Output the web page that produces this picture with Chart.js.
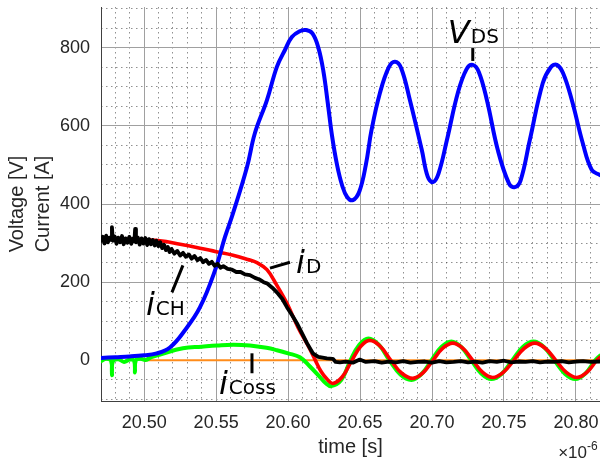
<!DOCTYPE html>
<html>
<head>
<meta charset="utf-8">
<script src="https://cdn.jsdelivr.net/npm/chart.js@4.4.1/dist/chart.umd.min.js"></script>
<style>
  html, body { margin: 0; padding: 0; background: #ffffff; }
  #wrap { width: 600px; height: 462px; }
</style>
</head>
<body>
<div id="wrap"><canvas id="c" width="600" height="462"></canvas></div>
<script>
// Switching transient: time axis in microseconds (labels shown with a ×10^-6 multiplier)

// Tick labels
const timeTicks = [20.50, 20.55, 20.60, 20.65, 20.70, 20.75, 20.80];
const valueTicks = [0, 200, 400, 600, 800];

// Drain-source voltage V_DS [V]
const vdsTime = [20.470, 20.480, 20.490, 20.500, 20.508, 20.5179, 20.5283, 20.5388, 20.5492, 20.5561,
  20.5617, 20.5714, 20.5769, 20.5853, 20.5922, 20.5978, 20.6026, 20.6080, 20.6125, 20.6170,
  20.6210, 20.6245, 20.6275, 20.6305, 20.6340, 20.6375, 20.6410, 20.6450, 20.6495, 20.6540,
  20.6580, 20.6638, 20.6700, 20.6742, 20.6785, 20.6846, 20.6929, 20.6970, 20.7006, 20.7045,
  20.7103, 20.7179, 20.7240, 20.7283, 20.7325, 20.7381, 20.7457, 20.7535, 20.7575, 20.7615,
  20.7679, 20.7769, 20.7825, 20.7867, 20.7910, 20.7971, 20.8047, 20.8110, 20.8167];
const vdsVolts = [6, 8, 10, 13, 17, 33, 77, 136, 230, 315,
  376, 494, 581, 666, 751, 794, 827, 842, 845, 836,
  800, 740, 660, 575, 500, 448, 418, 410, 432, 500,
  590, 684, 750, 764, 748, 666, 538, 470, 456, 478,
  563, 684, 745, 756, 738, 666, 538, 452, 443, 460,
  563, 709, 750, 756, 735, 666, 556, 487, 474];

// Drain current i_D [A]
const idTime = [20.470, 20.490, 20.511, 20.525, 20.5388, 20.550, 20.5617, 20.5720, 20.5783, 20.5853,
  20.5922, 20.5992, 20.6068, 20.6138, 20.6187, 20.6228, 20.6270, 20.6311, 20.6377, 20.6443,
  20.6505, 20.6568, 20.6640, 20.6714, 20.6790, 20.6867, 20.6937, 20.7006, 20.7075, 20.7144,
  20.7213, 20.7283, 20.7352, 20.7422, 20.7495, 20.7568, 20.7641, 20.7714, 20.7787, 20.7860,
  20.7933, 20.8006, 20.8075, 20.8144, 20.8167];
const idAmps = [312, 310, 306, 297, 287, 278, 269, 258, 250, 232,
  192, 146, 85, 38, 2, -28, -48, -59, -42, 0,
  36, 51, 36, 0, -33, -46, -32, 0, 31, 44,
  31, 0, -31, -44, -31, 0, 31, 44, 31, 0,
  -31, -44, -31, 0, 8];

// Output-capacitance current i_Coss [A]
const icossTime = [20.470, 20.4735, 20.4770, 20.4776, 20.4782, 20.4820, 20.4860, 20.4900, 20.4930, 20.4936,
  20.4942, 20.4975, 20.5010, 20.5050, 20.511, 20.5269, 20.540, 20.5506, 20.5620, 20.5735,
  20.5850, 20.5922, 20.6000, 20.6082, 20.6150, 20.6220, 20.6260, 20.6300, 20.6370, 20.6433,
  20.6495, 20.6558, 20.6630, 20.6704, 20.6780, 20.6857, 20.6927, 20.6996, 20.7065, 20.7134,
  20.7203, 20.7273, 20.7342, 20.7412, 20.7485, 20.7558, 20.7631, 20.7704, 20.7777, 20.7850,
  20.7923, 20.7996, 20.8065, 20.8134, 20.8167];
const icossAmps = [-2, 4, -1, -38, -3, 3, -4, 2, -1, -31,
  0, 4, 1, 8, 15, 31, 35, 38, 40, 38,
  32, 26, 18, 8, -15, -42, -58, -66, -50, 0,
  40, 56, 40, 0, -36, -50, -35, 0, 34, 48,
  34, 0, -34, -48, -34, 0, 34, 48, 34, 0,
  -34, -48, -34, 0, 12];

// Channel current i_CH [A]
const ichTime = [20.4700, 20.4712, 20.4724, 20.4736, 20.4748, 20.4760, 20.4770, 20.4776, 20.4782, 20.4795,
  20.4808, 20.4820, 20.4833, 20.4846, 20.4858, 20.4871, 20.4884, 20.4897, 20.4910, 20.4922,
  20.4932, 20.4937, 20.4943, 20.4956, 20.4969, 20.4982, 20.4995, 20.5008, 20.5021, 20.5034,
  20.5047, 20.5060, 20.5073, 20.5086, 20.5099, 20.5112, 20.5125, 20.5138, 20.5151, 20.5164,
  20.5177, 20.5190, 20.5210, 20.5230, 20.5250, 20.5270, 20.5290, 20.5310, 20.5330, 20.5350,
  20.5370, 20.5390, 20.5410, 20.5430, 20.5450, 20.5470, 20.5490, 20.5510, 20.5530, 20.5550,
  20.5580, 20.5610, 20.5640, 20.5670, 20.5700, 20.5735, 20.5770, 20.5800, 20.5830, 20.5853,
  20.5890, 20.5922, 20.5960, 20.5992, 20.6030, 20.6061, 20.6090, 20.6131, 20.6172, 20.6210,
  20.6269, 20.6311, 20.6330, 20.6360, 20.6400, 20.6450, 20.6498, 20.6540, 20.6600, 20.6650,
  20.6700, 20.6750, 20.6800, 20.6850, 20.6900, 20.6950, 20.7000, 20.7050, 20.7100, 20.7150,
  20.7200, 20.7250, 20.7300, 20.7350, 20.7400, 20.7450, 20.7500, 20.7550, 20.7600, 20.7650,
  20.7700, 20.7750, 20.7800, 20.7850, 20.7900, 20.7950, 20.8000, 20.8050, 20.8100, 20.8167];
const ichAmps = [306, 316, 299, 319, 302, 314, 308, 341, 306, 317,
  298, 314, 302, 318, 297, 312, 301, 316, 298, 311,
  305, 336, 302, 314, 296, 312, 299, 313, 295, 310,
  297, 308, 294, 306, 292, 302, 287, 296, 282, 290,
  277, 285, 273, 280, 268, 275, 265, 271, 260, 267,
  256, 262, 251, 257, 247, 252, 242, 247, 237, 241,
  234, 232, 226, 226, 220, 218, 211, 207, 200, 197,
  186, 174, 157, 136, 114, 95, 74, 44, 18, 9,
  5, 4, -4, -5, -3, -6, 2, -4, -2, -6,
  -3, -5, -2, -6, -4, -3, -6, -2, -5, -4,
  -2, -5, -3, -6, -2, -4, -1, -5, -3, -4,
  -2, -5, -3, -4, -2, -5, -3, -2, -4, -3];

// Zero reference
const refTime = [20.500, 20.8167];
const refAmps = [0, 0];

const pts = (xs, ys) => xs.map((x, i) => ({ x: x, y: ys[i] }));

const AXIS_FONT = '"Liberation Sans", Arial, Helvetica, sans-serif';
const AXIS_COLOR = '#262626';

// Callout labels placed in data coordinates
const callouts = [
  { main: 'V', sub: 'DS', at: [20.7110, 812], line: [[20.7283, 799], [20.7283, 766]] },
  { main: 'i', sub: 'D', at: [20.6055, 223], line: [[20.5874, 236], [20.6013, 251]] },
  { main: 'i', sub: 'CH', at: [20.5012, 115], line: [[20.5193, 174], [20.5269, 243]] },
  { main: 'i', sub: 'Coss', at: [20.5519, -85], line: [[20.5749, 18], [20.5749, -33]] }
];

const calloutPlugin = {
  id: 'callouts',
  afterDatasetsDraw(chart) {
    const { ctx, scales: { x, y }, chartArea } = chart;
    ctx.save();
    ctx.strokeStyle = '#000';
    ctx.fillStyle = '#000';
    ctx.lineWidth = 3;
    ctx.lineCap = 'butt';
    callouts.forEach(c => {
      ctx.beginPath();
      ctx.moveTo(x.getPixelForValue(c.line[0][0]), y.getPixelForValue(c.line[0][1]));
      ctx.lineTo(x.getPixelForValue(c.line[1][0]), y.getPixelForValue(c.line[1][1]));
      ctx.stroke();
      const px = x.getPixelForValue(c.at[0]);
      const py = y.getPixelForValue(c.at[1]);
      ctx.textBaseline = 'alphabetic';
      ctx.textAlign = 'left';
      ctx.font = 'italic 32px "DejaVu Sans"';
      ctx.fillText(c.main, px, py);
      const w = ctx.measureText(c.main).width;
      ctx.font = '20px "DejaVu Sans"';
      ctx.fillText(c.sub, px + w + 1, py);
    });
    ctx.restore();

    // exponent multiplier under the right end of the time axis
    ctx.save();
    ctx.fillStyle = AXIS_COLOR;
    ctx.textBaseline = 'alphabetic';
    ctx.textAlign = 'right';
    ctx.font = '17px ' + AXIS_FONT;
    const ex = chartArea.right - 13;
    ctx.fillText('\u00d710', ex, chartArea.bottom + 57);
    ctx.textAlign = 'left';
    ctx.font = '12px ' + AXIS_FONT;
    ctx.fillText('-6', ex, chartArea.bottom + 49);
    ctx.restore();
  }
};

const minorTimes = [];
for (let k = 0; k <= 34; k++) minorTimes.push(+(20.47 + k * 0.01).toFixed(2));
const minorValues = [];
for (let v = -100; v <= 900; v += 50) minorValues.push(v);

// minor grid axes take no room; main axes get fixed sizes
const clearPad = s => { s.paddingTop = s.paddingBottom = s.paddingLeft = s.paddingRight = 0; };
const collapse = s => { if (s.isHorizontal()) s.height = 0; else s.width = 0; clearPad(s); };
const fitX = s => { s.height = 58; clearPad(s); };
const fitY = s => { s.width = 101; clearPad(s); };

const lineStyle = { pointRadius: 0, fill: false, borderJoinStyle: 'round', borderCapStyle: 'round' };

new Chart(document.getElementById('c'), {
  type: 'line',
  data: {
    datasets: [
      Object.assign({ label: 'i_CH', data: pts(ichTime, ichAmps), borderColor: '#000000', borderWidth: 3.8, tension: 0 }, lineStyle),
      Object.assign({ label: 'V_DS', data: pts(vdsTime, vdsVolts), borderColor: '#0000ff', borderWidth: 4, tension: 0.4 }, lineStyle),
      Object.assign({ label: 'i_D', data: pts(idTime, idAmps), borderColor: '#ff0000', borderWidth: 3.6, tension: 0.4 }, lineStyle),
      Object.assign({ label: 'i_Coss', data: pts(icossTime, icossAmps), borderColor: '#00ff00', borderWidth: 4, tension: 0.4 }, lineStyle),
      Object.assign({ label: 'zero', data: pts(refTime, refAmps), borderColor: '#ff8c1a', borderWidth: 2, tension: 0 }, lineStyle)
    ]
  },
  options: {
    responsive: false,
    animation: false,
    devicePixelRatio: 1,
    layout: { padding: { left: 0, right: 0, top: 7, bottom: 3 } },
    plugins: { legend: { display: false }, tooltip: { enabled: false } },
    scales: {
      xMinor: {
        type: 'linear', position: 'bottom', min: 20.47, max: 20.8167,
        afterBuildTicks: a => { a.ticks = minorTimes.map(v => ({ value: v })); },
        afterFit: collapse,
        ticks: { display: false, padding: 0 },
        grid: { color: 'rgba(70,70,70,0.6)', lineWidth: 1, drawTicks: false },
        border: { display: false, dash: [1.5, 3.5] }
      },
      yMinor: {
        type: 'linear', position: 'left', min: -104, max: 904,
        afterBuildTicks: a => { a.ticks = minorValues.map(v => ({ value: v })); },
        afterFit: collapse,
        ticks: { display: false, padding: 0 },
        grid: { color: 'rgba(70,70,70,0.6)', lineWidth: 1, drawTicks: false },
        border: { display: false, dash: [1.5, 3.5] }
      },
      x: {
        type: 'linear', position: 'bottom', min: 20.47, max: 20.8167,
        afterBuildTicks: a => { a.ticks = timeTicks.map(v => ({ value: v })); },
        afterFit: fitX,
        ticks: {
          color: AXIS_COLOR, font: { family: AXIS_FONT, size: 18 }, padding: 11,
          maxRotation: 0, autoSkip: false,
          callback: v => v.toFixed(2)
        },
        grid: { color: '#a0a0a0', lineWidth: 1, drawTicks: false },
        border: { display: true, color: '#404040', width: 1 },
        title: {
          display: true, text: 'time [s]', color: AXIS_COLOR,
          font: { family: AXIS_FONT, size: 20 }, padding: { top: 2, bottom: 0 }
        }
      },
      y: {
        type: 'linear', position: 'left', min: -104, max: 904,
        afterBuildTicks: a => { a.ticks = valueTicks.map(v => ({ value: v })); },
        afterFit: fitY,
        ticks: {
          color: AXIS_COLOR, font: { family: AXIS_FONT, size: 18 }, padding: 11,
          autoSkip: false, callback: v => String(v)
        },
        grid: { color: '#a0a0a0', lineWidth: 1, drawTicks: false },
        border: { display: true, color: '#404040', width: 1 },
        title: {
          display: true, text: ['Voltage [V]', 'Current [A]'], color: AXIS_COLOR,
          font: { family: AXIS_FONT, size: 20, lineHeight: 1.3 }, padding: { top: 4, bottom: 4 }
        }
      }
    }
  },
  plugins: [calloutPlugin]
});
</script>
</body>
</html>
